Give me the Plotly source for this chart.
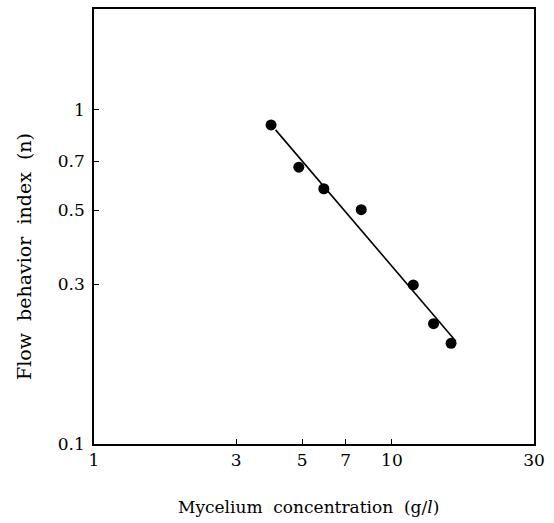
import numpy as np
import plotly.graph_objects as go

# Data
conc = [3.93, 4.87, 5.91, 7.89, 11.8, 13.8, 15.8]          # g/l
n_index = [0.900, 0.673, 0.580, 0.502, 0.299, 0.229, 0.200]

fit_x = [4.07, 16.4]
fit_y = [0.870, 0.203]

x_ticks = [1, 3, 5, 7, 10, 30]
x_ticktext = ["1", "3", "5", "7", "10", "30"]
y_ticks = [0.1, 0.3, 0.5, 0.7, 1]
y_ticktext = ["0.1", "0.3", "0.5", "0.7", "1"]

FONT = "DejaVu Serif"

fig = go.Figure()
fig.add_trace(go.Scatter(x=fit_x, y=fit_y, mode="lines",
                         line=dict(color="black", width=1.6),
                         showlegend=False, hoverinfo="skip"))
fig.add_trace(go.Scatter(x=conc, y=n_index, mode="markers",
                         marker=dict(color="black", size=11),
                         showlegend=False))

axis_common = dict(showline=True, linecolor="black", linewidth=1.5, mirror=True,
                   ticks="inside", ticklen=5, tickwidth=1, tickcolor="black",
                   showgrid=False, zeroline=False,
                   tickfont=dict(family=FONT, size=17, color="black"))

fig.update_xaxes(type="log", range=[0, np.log10(30)],
                 tickmode="array", tickvals=x_ticks, ticktext=x_ticktext,
                 ticklabelstandoff=0,
                 **axis_common)
fig.update_yaxes(type="log", range=[-1, np.log10(2.0)],
                 tickmode="array", tickvals=y_ticks, ticktext=y_ticktext,
                 ticklabelstandoff=4,
                 **axis_common)

fig.add_annotation(text="Mycelium  concentration  (g/<i>l</i>)",
                   xref="paper", yref="paper", x=0.4875, y=-0.144,
                   xanchor="center", yanchor="middle", showarrow=False,
                   font=dict(family=FONT, size=17, color="black"))
fig.add_annotation(text="Flow  behavior  index  (n)",
                   xref="paper", yref="paper", x=-0.159, y=0.43,
                   xanchor="center", yanchor="middle", showarrow=False,
                   textangle=-90,
                   font=dict(family=FONT, size=19, color="black"))

fig.update_layout(width=554, height=523,
                  margin=dict(l=94, r=20, t=7, b=79),
                  paper_bgcolor="white", plot_bgcolor="white")

fig.write_html("out.html", config={"displayModeBar": False},
               post_script="document.body.style.margin='0';document.body.style.padding='0';")
